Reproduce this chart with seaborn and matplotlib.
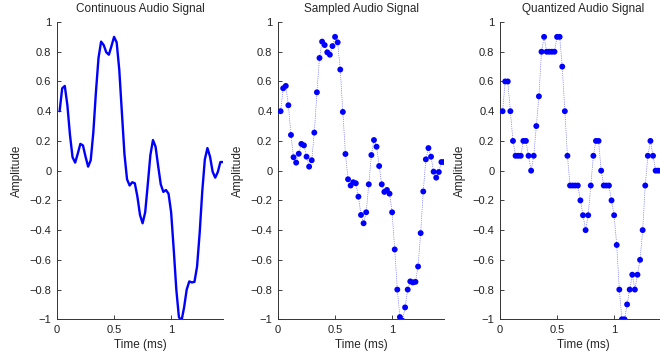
import matplotlib
matplotlib.use('Agg')
import matplotlib.pyplot as plt
import seaborn as sns
import numpy as np

# sampling rate in kHz, samples start at n = 1
sample_rate_khz = 44.1

sampled = [0.40, 0.554, 0.57, 0.44, 0.24, 0.09, 0.054, 0.114, 0.18, 0.17,
           0.094, 0.027, 0.07, 0.256, 0.527, 0.758, 0.868, 0.845, 0.796, 0.78,
           0.838, 0.90, 0.863, 0.68, 0.395, 0.112, -0.058, -0.10, -0.078, -0.085,
           -0.175, -0.298, -0.354, -0.28, -0.092, 0.105, 0.206, 0.161, 0.031, -0.092,
           -0.143, -0.13, -0.155, -0.28, -0.53, -0.80, -0.985, -1.01, -0.92, -0.80,
           -0.745, -0.752, -0.748, -0.645, -0.42, -0.14, 0.076, 0.152, 0.094, -0.007,
           -0.047, -0.009, 0.058, 0.058]

quantized = [0.4, 0.6, 0.6, 0.4, 0.2, 0.1, 0.1, 0.1, 0.2, 0.2,
             0.1, 0.0, 0.1, 0.3, 0.5, 0.8, 0.9, 0.8, 0.8, 0.8,
             0.8, 0.9, 0.9, 0.7, 0.4, 0.1, -0.1, -0.1, -0.1, -0.1,
             -0.2, -0.3, -0.4, -0.3, -0.1, 0.1, 0.2, 0.2, 0.0, -0.1,
             -0.1, -0.1, -0.2, -0.3, -0.5, -0.8, -1.0, -1.0, -0.9, -0.8,
             -0.7, -0.8, -0.7, -0.6, -0.4, -0.1, 0.1, 0.2, 0.1, 0.0,
             0.0, 0.0, 0.1, 0.1]

titles = ["Continuous Audio Signal", "Sampled Audio Signal", "Quantized Audio Signal"]
y_ticks = [-1, -0.8, -0.6, -0.4, -0.2, 0, 0.2, 0.4, 0.6, 0.8, 1]
y_tick_labels = ["\u22121", "\u22120.8", "\u22120.6", "\u22120.4", "\u22120.2", "0",
                 "0.2", "0.4", "0.6", "0.8", "1"]
x_ticks = [0, 0.5, 1]
x_tick_labels = ["0", "0.5", "1"]

t = np.arange(1, len(sampled) + 1) / sample_rate_khz

sns.set_style("ticks", {"xtick.direction": "in", "ytick.direction": "in"})
plt.rcParams['font.family'] = ['Liberation Sans', 'DejaVu Sans']
plt.rcParams['font.size'] = 8

fig = plt.figure(figsize=(6.6, 3.58), dpi=100)
W, H = 660.0, 358.0
lefts = [57, 278, 500]
ax_w = 166
top, bottom = 22, 319.3

axes = []
for left in lefts:
    ax = fig.add_axes([left / W, (H - bottom) / H, ax_w / W, (bottom - top) / H])
    axes.append(ax)

# 1. continuous
sns.lineplot(x=t, y=sampled, ax=axes[0], color='#0000ff', linewidth=1.7)

# 2. sampled
sns.lineplot(x=t, y=sampled, ax=axes[1], color='#4040ff', linewidth=0.5, linestyle=':')
sns.scatterplot(x=t, y=sampled, ax=axes[1], color='#0000ff', s=18, edgecolor='none', zorder=3)

# 3. quantized
sns.lineplot(x=t, y=quantized, ax=axes[2], color='#4040ff', linewidth=0.5, linestyle=':')
sns.scatterplot(x=t, y=quantized, ax=axes[2], color='#0000ff', s=18, edgecolor='none', zorder=3)

for ax, title in zip(axes, titles):
    ax.set_xlim(0, t[-1])
    ax.set_ylim(-1, 1)
    ax.set_xticks(x_ticks)
    ax.set_xticklabels(x_tick_labels)
    ax.set_yticks(y_ticks)
    ax.set_yticklabels(y_tick_labels)
    ax.tick_params(direction='in', length=3, width=0.6, pad=4, labelsize=8, colors='#222222')
    ax.set_title(title, fontsize=8.5, pad=7)
    ax.set_xlabel("Time (ms)", fontsize=8.5, labelpad=3)
    ax.set_ylabel("Amplitude", fontsize=8.5, labelpad=5)
    sns.despine(ax=ax)
    for s in ['left', 'bottom']:
        ax.spines[s].set_linewidth(0.7)
        ax.spines[s].set_color('#333333')

fig.savefig("out.png", dpi=100)
plt.close(fig)
